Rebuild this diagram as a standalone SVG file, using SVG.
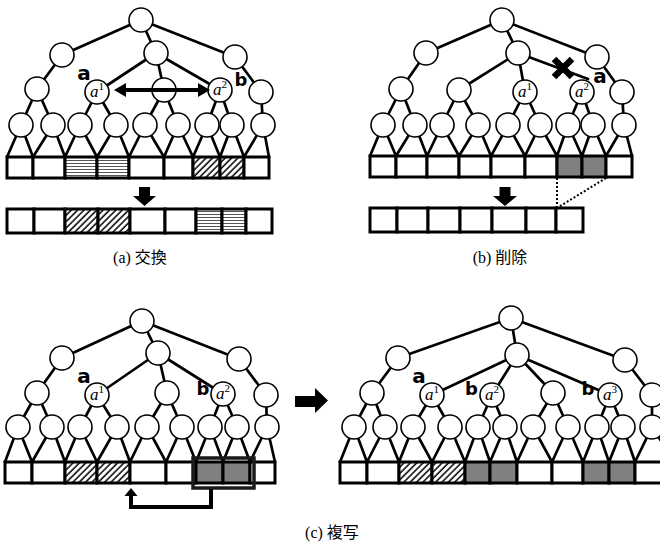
<svg xmlns="http://www.w3.org/2000/svg" width="660" height="548" viewBox="0 0 660 548">
<style>
.e{stroke:#000;stroke-width:2.7;fill:none;stroke-linecap:round}
.n{fill:#fff;stroke:#000;stroke-width:1.6}
.c{stroke:#000;stroke-width:3;fill:#fff}
.g{fill:#808080}
.h{fill:url(#hor)}
.d{fill:url(#diag)}
.la{font-family:"DejaVu Sans",sans-serif;font-weight:bold;font-size:20px;text-anchor:middle}
.lb{font-family:"DejaVu Sans",sans-serif;font-weight:bold;font-size:18px;text-anchor:middle}
.m{font-family:"Liberation Serif",serif;font-size:17px;text-anchor:middle}
.m .i{font-style:italic}
.m .s{font-size:11px}
.cap{font-family:"Liberation Serif","Noto Sans CJK JP",serif;font-size:16px;text-anchor:middle}
.blk{fill:#000}
</style>
<defs>
<pattern id="diag" patternUnits="userSpaceOnUse" width="4.5" height="4.5" patternTransform="rotate(45)">
<rect width="4.5" height="4.5" fill="#fff"/><line x1="1" y1="0" x2="1" y2="4.5" stroke="#000" stroke-width="1.5"/>
</pattern>
<pattern id="hor" patternUnits="userSpaceOnUse" width="4" height="3">
<rect width="4" height="3" fill="#fff"/><line x1="0" y1="1.5" x2="4" y2="1.5" stroke="#555" stroke-width="1"/>
</pattern>
</defs>
<rect width="660" height="548" fill="#fff"/>

<g id="connectors" class="e">
<!-- panel a -->
<path d="M141,20L62,55M141,20L156,53M141,20L235,57M62,55L37,89M156,53L97,92M156,53L164,90M156,53L220,90M235,57L261,92
M37,89L21,125M37,89L53,125M97,92L80,125M97,92L116,125M164,90L145,125M164,90L178,125M220,90L207,125M220,90L232,125M261,92L263,125
M7,157L21,125L33,157M33,157L53,125L65,157M65,157L80,125L97,157M97,157L116,125L129,157M129,157L145,125L164,157M164,157L178,125L193,157M193,157L207,125L220,157M220,157L232,125L244,157M244,157L263,125L269,157"/>
<!-- panel b -->
<path d="M502,20L426,53M502,20L518,53M502,20L597,57M426,53L401,89M518,53L459,90M518,53L525,92M518,53L588,79M597,57L622,92
M401,89L383,125M401,89L415,125M459,90L442,125M459,90L478,125M525,92L508,125M525,92L540,125M582,92L568,125M582,92L593,125M622,92L624,125
M370,156L383,125L396,156M396,156L415,125L427,156M427,156L442,125L459,156M459,156L478,125L491,156M491,156L508,125L525,156M525,156L540,125L557,156M557,156L568,125L582,156M582,156L593,125L606,156M606,156L624,125L632,156"/>
<!-- panel c left -->
<path d="M142,321L62,358M142,321L158,353M142,321L239,359M62,358L37,393M158,353L97,395M158,353L167,393M158,353L223,394M239,359L266,395
M37,393L18,427M37,393L52,427M97,395L80,427M97,395L117,427M167,393L147,427M167,393L182,427M223,394L210,427M223,394L237,427M266,395L267,427
M5,462L18,427L32,462M32,462L52,427L65,462M65,462L80,427L97,462M97,462L117,427L130,462M130,462L147,427L166,462M166,462L182,427L196,462M196,462L210,427L223,462M223,462L237,427L250,462M250,462L267,427L275,462"/>
<!-- panel c right -->
<path d="M511,318L398,358M511,318L517,355M511,318L625,360M398,358L372,393M517,355L432,395M517,355L492,395M517,355L553,393M517,355L610,395M625,360L652,395
M372,393L354,427M372,393L385,427M432,395L413,427M432,395L450,427M492,395L478,427M492,395L505,427M553,393L533,427M553,393L568,427M610,395L597,427M610,395L623,427M652,395L652,427
M340,462L354,427L367,462M367,462L385,427L399,462M399,462L413,427L432,462M432,462L450,427L465,462M465,462L478,427L490,462M490,462L505,427L517,462M517,462L533,427L552,462M552,462L568,427L583,462M583,462L597,427L609,462M609,462L623,427L635,462M635,462L652,427L675,462"/>
<!-- dotted lines b -->
<path d="M557,178L557,208M606,178L557,208" stroke-dasharray="2,2" stroke-width="2" stroke-linecap="butt"/>
</g>

<!-- panel a nodes -->
<g id="a-root"><circle class="n" cx="141" cy="20" r="12"/></g>
<g id="a-n1"><circle class="n" cx="62" cy="55" r="12"/></g>
<g id="a-n2"><circle class="n" cx="156" cy="53" r="12"/></g>
<g id="a-n3"><circle class="n" cx="235" cy="57" r="12"/></g>
<g id="a-n4"><circle class="n" cx="37" cy="89" r="12"/></g>
<g id="a-a1"><circle class="n" cx="97" cy="92" r="12"/><text class="m" x="97" y="97"><tspan class="i">a</tspan><tspan class="s" dy="-7">1</tspan></text></g>
<g id="a-n5"><circle class="n" cx="164" cy="90" r="12"/></g>
<g id="a-a2"><circle class="n" cx="220" cy="90" r="12"/><text class="m" x="220" y="95"><tspan class="i">a</tspan><tspan class="s" dy="-7">2</tspan></text></g>
<g id="a-n6"><circle class="n" cx="261" cy="92" r="12"/></g>
<g id="a-leaves">
<circle class="n" cx="21" cy="125" r="12"/><circle class="n" cx="53" cy="125" r="12"/><circle class="n" cx="80" cy="125" r="12"/><circle class="n" cx="116" cy="125" r="12"/><circle class="n" cx="145" cy="125" r="12"/><circle class="n" cx="178" cy="125" r="12"/><circle class="n" cx="207" cy="125" r="12"/><circle class="n" cx="232" cy="125" r="12"/><circle class="n" cx="263" cy="125" r="12"/>
</g>
<g id="a-array">
<rect class="c" x="7" y="157" width="26" height="21"/><rect class="c" x="33" y="157" width="32" height="21"/><rect class="c h" x="65" y="157" width="32" height="21"/><rect class="c h" x="97" y="157" width="32" height="21"/><rect class="c" x="129" y="157" width="35" height="21"/><rect class="c" x="164" y="157" width="29" height="21"/><rect class="c d" x="193" y="157" width="27" height="21"/><rect class="c d" x="220" y="157" width="24" height="21"/><rect class="c" x="244" y="157" width="25" height="21"/>
</g>
<g id="a-array2">
<rect class="c" x="7" y="209" width="27" height="24"/><rect class="c" x="34" y="209" width="31" height="24"/><rect class="c d" x="65" y="209" width="33" height="24"/><rect class="c d" x="98" y="209" width="32" height="24"/><rect class="c" x="130" y="209" width="35" height="24"/><rect class="c" x="165" y="209" width="31" height="24"/><rect class="c h" x="196" y="209" width="26" height="24"/><rect class="c h" x="222" y="209" width="24" height="24"/><rect class="c" x="246" y="209" width="26" height="24"/>
</g>
<g id="a-labels">
<text class="la" x="84" y="80">a</text><text class="lb" x="241" y="86">b</text>
</g>
<g id="a-swap">
<line x1="124" y1="90" x2="200" y2="90" stroke="#000" stroke-width="4"/>
<polygon class="blk" points="114,90 126,83 126,97"/><polygon class="blk" points="210,90 198,83 198,97"/>
</g>
<g id="a-down"><polygon class="blk" points="139,187 150,187 150,196 156,196 144.5,206 133,196 139,196"/></g>
<text class="cap" x="140" y="263">(a) 交換</text>

<!-- panel b nodes -->
<g id="b-root"><circle class="n" cx="502" cy="20" r="12"/></g>
<g id="b-n1"><circle class="n" cx="426" cy="53" r="12"/></g>
<g id="b-n2"><circle class="n" cx="518" cy="53" r="12"/></g>
<g id="b-n3"><circle class="n" cx="597" cy="57" r="12"/></g>
<g id="b-n4"><circle class="n" cx="401" cy="89" r="12"/></g>
<g id="b-n5"><circle class="n" cx="459" cy="90" r="12"/></g>
<g id="b-a1"><circle class="n" cx="525" cy="92" r="12"/><text class="m" x="525" y="97"><tspan class="i">a</tspan><tspan class="s" dy="-7">1</tspan></text></g>
<g id="b-a2"><circle class="n" cx="582" cy="92" r="12"/><text class="m" x="582" y="97"><tspan class="i">a</tspan><tspan class="s" dy="-7">2</tspan></text></g>
<g id="b-n6"><circle class="n" cx="622" cy="92" r="12"/></g>
<g id="b-leaves">
<circle class="n" cx="383" cy="125" r="12"/><circle class="n" cx="415" cy="125" r="12"/><circle class="n" cx="442" cy="125" r="12"/><circle class="n" cx="478" cy="125" r="12"/><circle class="n" cx="508" cy="125" r="12"/><circle class="n" cx="540" cy="125" r="12"/><circle class="n" cx="568" cy="125" r="12"/><circle class="n" cx="593" cy="125" r="12"/><circle class="n" cx="624" cy="125" r="12"/>
</g>
<g id="b-array">
<rect class="c" x="370" y="156" width="26" height="21"/><rect class="c" x="396" y="156" width="31" height="21"/><rect class="c" x="427" y="156" width="32" height="21"/><rect class="c" x="459" y="156" width="32" height="21"/><rect class="c" x="491" y="156" width="34" height="21"/><rect class="c" x="525" y="156" width="32" height="21"/><rect class="c g" x="557" y="156" width="25" height="21"/><rect class="c g" x="582" y="156" width="24" height="21"/><rect class="c" x="606" y="156" width="26" height="21"/>
</g>
<g id="b-array2">
<rect class="c" x="370" y="208" width="27" height="24"/><rect class="c" x="397" y="208" width="31" height="24"/><rect class="c" x="428" y="208" width="32" height="24"/><rect class="c" x="460" y="208" width="32" height="24"/><rect class="c" x="492" y="208" width="34" height="24"/><rect class="c" x="526" y="208" width="30" height="24"/><rect class="c" x="556" y="208" width="27" height="24"/>
</g>
<g id="b-cross"><path d="M554,59L572,77M572,59L554,77" stroke="#000" stroke-width="6.5"/></g>
<text class="la" x="600" y="83">a</text>
<g id="b-down"><polygon class="blk" points="499.5,187 510.5,187 510.5,196 517,196 505,206 493,196 499.5,196"/></g>
<text class="cap" x="500" y="263">(b) 削除</text>

<!-- panel c left -->
<g id="c-root"><circle class="n" cx="142" cy="321" r="12"/></g>
<g id="c-n1"><circle class="n" cx="62" cy="358" r="12"/></g>
<g id="c-n2"><circle class="n" cx="158" cy="353" r="12"/></g>
<g id="c-n3"><circle class="n" cx="239" cy="359" r="12"/></g>
<g id="c-n4"><circle class="n" cx="37" cy="393" r="12"/></g>
<g id="c-a1"><circle class="n" cx="97" cy="395" r="12"/><text class="m" x="97" y="400"><tspan class="i">a</tspan><tspan class="s" dy="-7">1</tspan></text></g>
<g id="c-n5"><circle class="n" cx="167" cy="393" r="12"/></g>
<g id="c-a2"><circle class="n" cx="223" cy="394" r="12"/><text class="m" x="223" y="399"><tspan class="i">a</tspan><tspan class="s" dy="-7">2</tspan></text></g>
<g id="c-n6"><circle class="n" cx="266" cy="395" r="12"/></g>
<g id="c-leaves">
<circle class="n" cx="18" cy="427" r="12"/><circle class="n" cx="52" cy="427" r="12"/><circle class="n" cx="80" cy="427" r="12"/><circle class="n" cx="117" cy="427" r="12"/><circle class="n" cx="147" cy="427" r="12"/><circle class="n" cx="182" cy="427" r="12"/><circle class="n" cx="210" cy="427" r="12"/><circle class="n" cx="237" cy="427" r="12"/><circle class="n" cx="267" cy="427" r="12"/>
</g>
<g id="c-array">
<rect class="c" x="5" y="462" width="27" height="21"/><rect class="c" x="32" y="462" width="33" height="21"/><rect class="c d" x="65" y="462" width="32" height="21"/><rect class="c d" x="97" y="462" width="33" height="21"/><rect class="c" x="130" y="462" width="36" height="21"/><rect class="c" x="166" y="462" width="30" height="21"/><rect class="c g" x="196" y="462" width="27" height="21"/><rect class="c g" x="223" y="462" width="27" height="21"/><rect class="c" x="250" y="462" width="25" height="21"/>
</g>
<g id="c-select"><rect x="193" y="458" width="61" height="30" fill="none" stroke="#1a1a1a" stroke-width="3.5"/></g>
<g id="c-labels"><text class="la" x="84" y="383">a</text><text class="lb" x="203" y="395">b</text></g>
<g id="c-copy">
<path d="M211,489V507H131V494" fill="none" stroke="#000" stroke-width="4"/>
<polygon class="blk" points="131,488 137.5,496 124.5,496"/>
</g>
<g id="c-bigarrow"><polygon class="blk" points="295,396 315,396 315,388 328,400.5 315,413 315,407 295,407"/></g>

<!-- panel c right -->
<g id="d-root"><circle class="n" cx="511" cy="318" r="12"/></g>
<g id="d-n1"><circle class="n" cx="398" cy="358" r="12"/></g>
<g id="d-n2"><circle class="n" cx="517" cy="355" r="12"/></g>
<g id="d-n3"><circle class="n" cx="625" cy="360" r="12"/></g>
<g id="d-n4"><circle class="n" cx="372" cy="393" r="12"/></g>
<g id="d-a1"><circle class="n" cx="432" cy="395" r="12"/><text class="m" x="432" y="400"><tspan class="i">a</tspan><tspan class="s" dy="-7">1</tspan></text></g>
<g id="d-a2"><circle class="n" cx="492" cy="395" r="12"/><text class="m" x="492" y="400"><tspan class="i">a</tspan><tspan class="s" dy="-7">2</tspan></text></g>
<g id="d-n5"><circle class="n" cx="553" cy="393" r="12"/></g>
<g id="d-a3"><circle class="n" cx="610" cy="395" r="12"/><text class="m" x="610" y="400"><tspan class="i">a</tspan><tspan class="s" dy="-7">3</tspan></text></g>
<g id="d-n6"><circle class="n" cx="652" cy="395" r="12"/></g>
<g id="d-leaves">
<circle class="n" cx="354" cy="427" r="12"/><circle class="n" cx="385" cy="427" r="12"/><circle class="n" cx="413" cy="427" r="12"/><circle class="n" cx="450" cy="427" r="12"/><circle class="n" cx="478" cy="427" r="12"/><circle class="n" cx="505" cy="427" r="12"/><circle class="n" cx="533" cy="427" r="12"/><circle class="n" cx="568" cy="427" r="12"/><circle class="n" cx="597" cy="427" r="12"/><circle class="n" cx="623" cy="427" r="12"/><circle class="n" cx="652" cy="427" r="12"/>
</g>
<g id="d-array">
<rect class="c" x="340" y="462" width="27" height="21"/><rect class="c" x="367" y="462" width="32" height="21"/><rect class="c d" x="399" y="462" width="33" height="21"/><rect class="c d" x="432" y="462" width="33" height="21"/><rect class="c g" x="465" y="462" width="25" height="21"/><rect class="c g" x="490" y="462" width="27" height="21"/><rect class="c" x="517" y="462" width="35" height="21"/><rect class="c" x="552" y="462" width="31" height="21"/><rect class="c g" x="583" y="462" width="26" height="21"/><rect class="c g" x="609" y="462" width="26" height="21"/><rect class="c" x="635" y="462" width="45" height="21"/>
</g>
<g id="d-labels"><text class="la" x="419" y="383">a</text><text class="lb" x="471.5" y="395">b</text><text class="lb" x="588" y="395">b</text></g>
<text class="cap" x="332" y="538">(c) 複写</text>
</svg>
